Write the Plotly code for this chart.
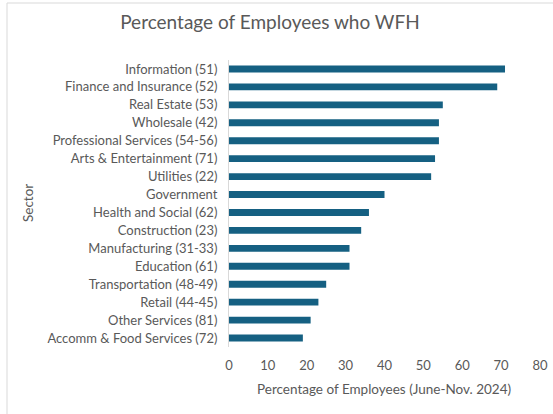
import plotly.graph_objects as go

sectors = ["Information (51)", "Finance and Insurance (52)", "Real Estate (53)", "Wholesale (42)",
           "Professional Services (54-56)", "Arts & Entertainment (71)", "Utilities (22)", "Government",
           "Health and Social (62)", "Construction (23)", "Manufacturing (31-33)", "Education (61)",
           "Transportation (48-49)", "Retail (44-45)", "Other Services (81)", "Accomm & Food Services (72)"]
values = [71, 69, 55, 54, 54, 53, 52, 40, 36, 34, 31, 31, 25, 23, 21, 19]
x_ticks = [0, 10, 20, 30, 40, 50, 60, 70, 80]

W, H = 553, 414
L, R, T, B = 229, 13, 60, 67
pw, ph = W - L - R, H - T - B

def px_x(p):
    return (p - L) / pw

def px_y(p):
    return (H - B - p) / ph

font = "Lato"
grey = "#595959"

fig = go.Figure(go.Bar(
    x=values[::-1], y=sectors[::-1], orientation="h",
    marker=dict(color="#156082", line=dict(width=0)), width=0.38,
))

fig.update_layout(
    width=W, height=H, margin=dict(l=L, r=R, t=T, b=B, autoexpand=False),
    paper_bgcolor="white", plot_bgcolor="white",
    font=dict(family=font, color=grey, size=12),
    showlegend=False,
    title=dict(text="Percentage of Employees who WFH", x=270 / W, xref="container", xanchor="center",
               y=1 - 22 / H, yref="container", yanchor="middle",
               font=dict(size=19, color=grey, family=font)),
    xaxis=dict(range=[0, 80], tickvals=x_ticks, showgrid=False, zeroline=False, automargin=False,
               showline=False, ticks="", ticklabelstandoff=9,
               tickfont=dict(size=13, color=grey), fixedrange=True),
    yaxis=dict(showgrid=False, zeroline=False, showline=True, linecolor="#d9d9d9", linewidth=1,
               automargin=False, ticks="", ticklabelstandoff=8, tickfont=dict(size=13, color=grey),
               range=[-0.5, len(sectors) - 0.5], fixedrange=True),
    shapes=[dict(type="rect", xref="paper", yref="paper",
                 x0=px_x(7), x1=px_x(560), y0=px_y(420), y1=px_y(3),
                 line=dict(color="#d9d9d9", width=1), fillcolor="rgba(0,0,0,0)", layer="above")],
    annotations=[
        dict(text="Percentage of Employees (June-Nov. 2024)", xref="paper", yref="paper",
             x=px_x(384), y=px_y(389), showarrow=False, xanchor="center", yanchor="middle",
             font=dict(size=13.5, color=grey)),
        dict(text="Sector", xref="paper", yref="paper", x=px_x(28), y=px_y(203), textangle=-90,
             showarrow=False, xanchor="center", yanchor="middle", font=dict(size=13.5, color=grey)),
    ],
)

fig.write_html("out.html", config={"displayModeBar": False},
               post_script="document.body.style.margin='0';")
